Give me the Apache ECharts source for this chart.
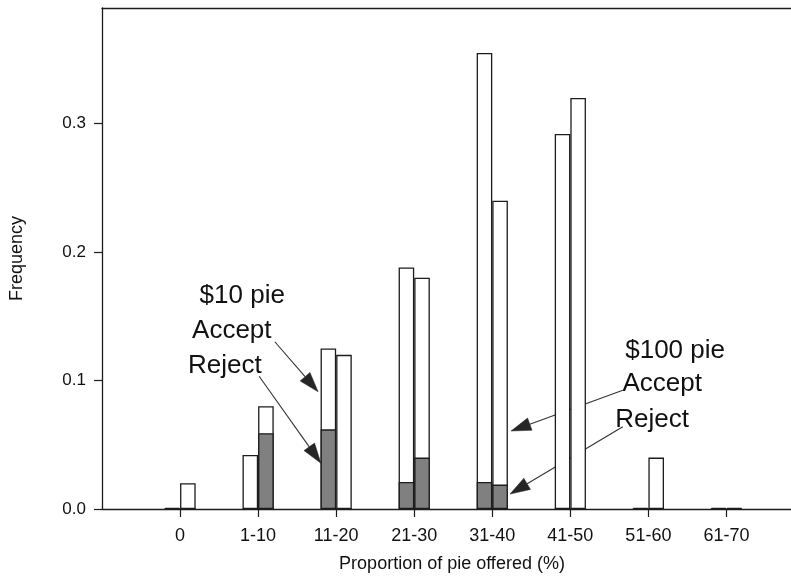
<!DOCTYPE html>
<html>
<head>
<meta charset="utf-8">
<script src="https://cdn.jsdelivr.net/npm/echarts@6/dist/echarts.min.js"></script>
<style>
  html, body { margin: 0; padding: 0; background: #ffffff; }
  #chart { width: 791px; height: 578px; }
</style>
</head>
<body>
<div id="chart"></div>
<script>
// Offer categories (percentage of the pie offered)
const categories = ['0', '1-10', '11-20', '21-30', '31-40', '41-50', '51-60', '61-70'];

// $10 pie: total frequency of offers, and the part that was rejected
const total10  = [0.001, 0.042, 0.125, 0.188, 0.355, 0.292, 0.001, 0.001];
const reject10 = [0,     0,     0.062, 0.021, 0.021, 0,     0,     0];

// $100 pie: total frequency of offers, and the part that was rejected
const total100  = [0.020, 0.080, 0.120, 0.180, 0.240, 0.320, 0.040, 0.001];
const reject100 = [0,     0.059, 0,     0.040, 0.019, 0,     0,     0];

const yTicks = [0, 0.1, 0.2, 0.3];
const xTicks = categories.map((c, i) => i);

// Annotation labels and arrows, in axis units
const noteTexts = [
  { text: '$10 pie',  at: [0.797, 0.1659] },
  { text: 'Accept',   at: [0.663, 0.1388] },
  { text: 'Reject',   at: [0.573, 0.1116] },
  { text: '$100 pie', at: [6.342, 0.1233] },
  { text: 'Accept',   at: [6.176, 0.0977] },
  { text: 'Reject',   at: [6.047, 0.0698] }
];
const noteArrows = [
  { from: [1.214, 0.1302], to: [1.769, 0.0912] },
  { from: [1.013, 0.1033], to: [1.804, 0.0357] },
  { from: [5.672, 0.0925], to: [4.240, 0.0607] },
  { from: [5.672, 0.0641], to: [4.227, 0.0116] }
];

// Each bar is 0.2 axis units wide: $10 bars left of the tick, $100 bars right of it
const HALF = 0.1;
const place = (vals, shift) => vals.map((v, i) => [i + shift, v]);

const INK = '#1c1c1c';
const FONT = '"Liberation Sans", Arial, Helvetica, sans-serif';
const BAR_PX = 15.6;

function barSeries(name, data, fill) {
  return {
    name: name,
    type: 'bar',
    data: data,
    barWidth: BAR_PX,
    barGap: '-100%',
    itemStyle: { color: fill, borderColor: INK, borderWidth: 1.3 },
    emphasis: { disabled: true },
    silent: true
  };
}

const chart = echarts.init(document.getElementById('chart'), null, { renderer: 'canvas' });

const xMin = -1, xMax = 7.827;
const yMax = 0.39;

chart.setOption({
  animation: false,
  textStyle: { fontFamily: FONT },
  grid: { left: 102, right: 0, top: 8, bottom: 67, show: false },
  xAxis: [
    {
      type: 'value', min: xMin, max: xMax, position: 'bottom',
      axisLine: { show: true, onZero: false, lineStyle: { color: INK, width: 1.3 } },
      axisTick: { show: true, length: 8, customValues: xTicks, lineStyle: { color: INK, width: 1.2 } },
      axisLabel: {
        customValues: xTicks,
        formatter: v => categories[Math.round(v)],
        fontSize: 18, color: '#111', margin: 18, fontFamily: FONT
      },
      splitLine: { show: false },
      name: 'Proportion of pie offered (%)',
      nameLocation: 'middle', nameGap: 46,
      nameTextStyle: { fontSize: 18, color: '#111', fontFamily: FONT, padding: [0, 0, 0, 11] }
    },
    {
      type: 'value', min: xMin, max: xMax, position: 'top',
      axisLine: { show: true, onZero: false, lineStyle: { color: INK, width: 1.3 } },
      axisTick: { show: false }, axisLabel: { show: false }, splitLine: { show: false }
    }
  ],
  yAxis: {
    type: 'value', min: 0, max: yMax,
    axisLine: { show: true, onZero: false, lineStyle: { color: INK, width: 1.3 } },
    axisTick: { show: true, length: 8, customValues: yTicks, lineStyle: { color: INK, width: 1.2 } },
    axisLabel: {
      customValues: yTicks,
      formatter: v => v.toFixed(1),
      fontSize: 17, color: '#111', margin: 16, fontFamily: FONT
    },
    splitLine: { show: false },
    name: 'Frequency', nameLocation: 'middle', nameGap: 76,
    nameTextStyle: { fontSize: 18, color: '#111', fontFamily: FONT }
  },
  series: [
    barSeries('$10 pie', place(total10, -HALF), '#ffffff'),
    barSeries('$100 pie', place(total100, HALF), '#ffffff'),
    barSeries('$10 pie reject', place(reject10, -HALF), '#808080'),
    barSeries('$100 pie reject', place(reject100, HALF), '#808080')
  ]
});

// Annotation text and arrows, placed through the chart's own axes
function px(pt) { return chart.convertToPixel({ gridIndex: 0 }, pt); }

const graphics = [];
noteTexts.forEach(n => {
  const p = px(n.at);
  graphics.push({
    type: 'text', x: p[0], y: p[1], silent: true,
    style: { text: n.text, fontSize: 26, fontFamily: FONT, fill: '#111', align: 'center', verticalAlign: 'middle' }
  });
});
const HEAD_LEN = 20, HEAD_W = 13;
noteArrows.forEach(a => {
  const p0 = px(a.from), p1 = px(a.to);
  const dx = p1[0] - p0[0], dy = p1[1] - p0[1];
  const len = Math.hypot(dx, dy);
  const ux = dx / len, uy = dy / len;
  const bx = p1[0] - ux * HEAD_LEN, by = p1[1] - uy * HEAD_LEN;
  const nx = -uy * HEAD_W / 2, ny = ux * HEAD_W / 2;
  graphics.push({
    type: 'line', silent: true,
    shape: { x1: p0[0], y1: p0[1], x2: bx, y2: by },
    style: { stroke: '#333', lineWidth: 1.1 }
  });
  graphics.push({
    type: 'polygon', silent: true,
    shape: { points: [[p1[0], p1[1]], [bx + nx, by + ny], [bx - nx, by - ny]] },
    style: { fill: '#262626', stroke: '#262626', lineWidth: 0.5 }
  });
});
chart.setOption({ graphic: graphics });
</script>
</body>
</html>
